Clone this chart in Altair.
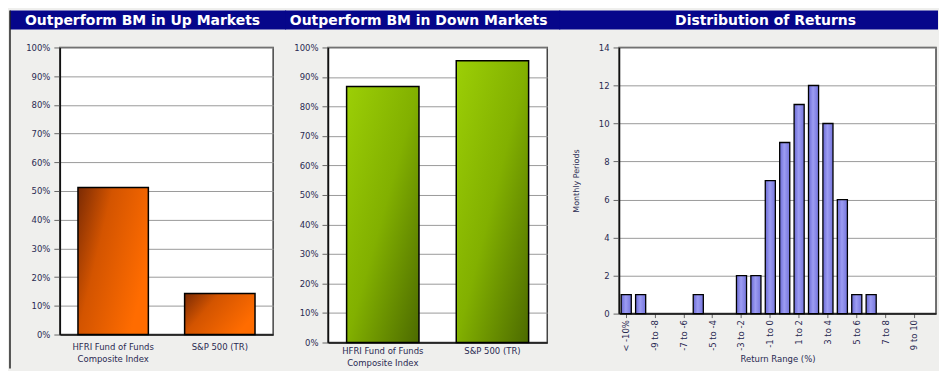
import altair as alt
import pandas as pd

# ---------------- data ----------------
titles = ["Outperform BM in Up Markets", "Outperform BM in Down Markets", "Distribution of Returns"]
funds = ["HFRI Fund of Funds\nComposite Index", "S&P 500 (TR)"]
up_values = [0.512, 0.143]
down_values = [0.868, 0.955]
pct_ticks = [0, 0.1, 0.2, 0.3, 0.4, 0.5, 0.6, 0.7, 0.8, 0.9, 1.0]
ranges = ["< -10%", "-10 to -9", "-9 to -8", "-8 to -7", "-7 to -6", "-6 to -5",
          "-5 to -4", "-4 to -3", "-3 to -2", "-2 to -1", "-1 to 0", "0 to 1",
          "1 to 2", "2 to 3", "3 to 4", "4 to 5", "5 to 6", "6 to 7", "7 to 8",
          "8 to 9", "9 to 10", "> 10%"]
counts = [1, 1, 0, 0, 0, 1, 0, 0, 2, 2, 7, 9, 11, 12, 10, 6, 1, 1, 0, 0, 0, 0]
count_ticks = [0, 2, 4, 6, 8, 10, 12, 14]
range_labels = ranges[::2]

# ---------------- style ----------------
FONT = "DejaVu Sans"
NAVY = "#06068a"
LABEL = "#2a2a52"

orange = alt.LinearGradient(
    gradient="linear", x1=0, y1=0, x2=1, y2=0.5,
    stops=[alt.GradientStop(color="#7a2a04", offset=0),
           alt.GradientStop(color="#d35400", offset=0.4),
           alt.GradientStop(color="#ff6c00", offset=1)])
green = alt.LinearGradient(
    gradient="linear", x1=0, y1=0, x2=1, y2=1,
    stops=[alt.GradientStop(color="#9ccf06", offset=0),
           alt.GradientStop(color="#82b000", offset=0.5),
           alt.GradientStop(color="#4c6a00", offset=1)])
purple = alt.LinearGradient(
    gradient="linear", x1=0, y1=0, x2=1, y2=0,
    stops=[alt.GradientStop(color="#6a6ad4", offset=0),
           alt.GradientStop(color="#9c9cf2", offset=0.45),
           alt.GradientStop(color="#7474dc", offset=1)])


def header(title, left, right, center, height=None):
    hdr = pd.DataFrame({"title": [title]})
    rect = alt.Chart(hdr).mark_rect(color=NAVY).encode(
        x=alt.value(left), x2=alt.value(right), y=alt.value(-37), y2=alt.value(-18))
    text = alt.Chart(hdr).mark_text(
        font=FONT, fontSize=14, fontWeight="bold", color="white",
        align="center", baseline="middle").encode(
        x=alt.value(center), y=alt.value(-27), text="title:N")
    layers = [rect, text]
    if height is not None:
        rule = alt.Chart(hdr).mark_rule(color="#222222", strokeWidth=1.5).encode(
            x=alt.value(left), y=alt.value(-37), y2=alt.value(height))
        layers.append(rule)
    return layers


def bar_panel(values, fill, width, height, left, right, center, title, label_pad, border=False):
    df = pd.DataFrame({"fund": funds, "value": values})
    bars = alt.Chart(df).mark_bar(color=fill, stroke="black", strokeWidth=1.5).encode(
        x=alt.X("fund:N", sort=funds,
                scale=alt.Scale(paddingInner=0.34, paddingOuter=0.17),
                axis=alt.Axis(title=None, labelAngle=0, ticks=False,
                              labelPadding=label_pad, labelLineHeight=12,
                              labelExpr="split(datum.label, '\\n')",
                              domainColor="#111111", domainWidth=1.5)),
        y=alt.Y("value:Q", scale=alt.Scale(domain=[0, 1]),
                axis=alt.Axis(values=pct_ticks, format=".0%", title=None,
                              grid=True, tickSize=6, labelPadding=4,
                              domainColor="#111111", domainWidth=1.5)),
    )
    layers = header(title, left, right, center, height + 34 if border else None)
    return alt.layer(layers[0], bars, *layers[1:]).properties(width=width, height=height)


p1 = bar_panel(up_values, orange, 214, 288, -50, 227, 83, titles[0], 8, border=True)
p2 = bar_panel(down_values, green, 220, 296, -43, 233, 91, titles[1], 4)

hdf = pd.DataFrame({"range": ranges, "count": counts})
hist = alt.Chart(hdf).transform_filter("datum.count > 0").mark_bar(
    color=purple, stroke="black", strokeWidth=1.3).encode(
    x=alt.X("range:N", sort=ranges,
            scale=alt.Scale(domain=ranges, paddingInner=0.3, paddingOuter=0.15),
            axis=alt.Axis(title="Return Range (%)", values=range_labels,
                          labelAngle=-90, ticks=True, tickSize=4, labelPadding=2,
                          titlePadding=3, domainColor="#111111", domainWidth=1.5)),
    y=alt.Y("count:Q", scale=alt.Scale(domain=[0, 14]),
            axis=alt.Axis(values=count_ticks, title="Monthly Periods", grid=True,
                          tickSize=6, labelPadding=4, titlePadding=18,
                          titleFontSize=8, domainColor="#111111", domainWidth=1.5)),
)
hl = header(titles[2], -60, 320, 147)
p3 = alt.layer(hl[0], hist, hl[1]).properties(width=318, height=267)

chart = alt.hconcat(p1, p2, p3, spacing=-3, bounds="full", padding=0,
                    background="#efefed").configure_view(
    fill="white", stroke="#444444", strokeWidth=1.5
).configure_axis(
    labelFont=FONT, labelFontSize=8.5, labelColor=LABEL,
    titleFont=FONT, titleFontSize=8.5, titleColor=LABEL, titleFontWeight="normal",
    gridColor="#9a9a9a", gridWidth=1, tickColor="#666666"
)

chart.save("out.html", embed_options={"renderer": "svg", "actions": False})
